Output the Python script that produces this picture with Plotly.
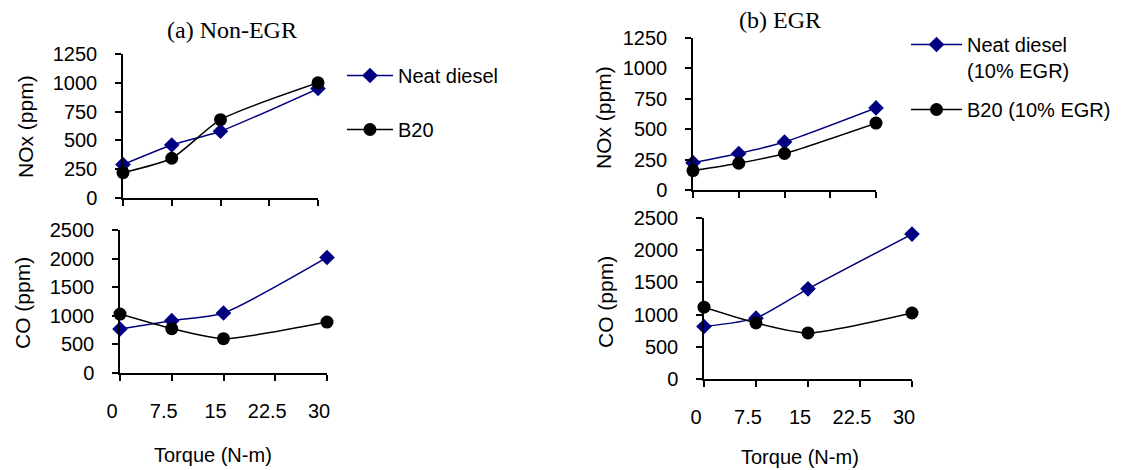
import plotly.graph_objects as go

W, H = 1123, 470

torque = [0, 7.5, 15, 30]
x_tickvals = [0, 7.5, 15, 22.5, 30]
x_ticktext = ["0", "7.5", "15", "22.5", "30"]

nox_neat_nonegr = [290, 460, 580, 950]
nox_b20_nonegr = [220, 345, 680, 1000]
co_neat_nonegr = [770, 915, 1050, 2020]
co_b20_nonegr = [1030, 775, 600, 890]

nox_neat_egr = [225, 300, 395, 675]
nox_b20_egr = [160, 220, 300, 550]
co_neat_egr = [815, 945, 1400, 2250]
co_b20_egr = [1115, 870, 715, 1025]

NAVY = "#000080"
BLACK = "#000000"
SANS = "Liberation Sans, Arial, sans-serif"
SERIF = "Liberation Serif, Times New Roman, serif"


def px_x(a, b):
    return [a / W, b / W]


def px_y(top, bottom):
    return [1 - bottom / H, 1 - top / H]


fig = go.Figure()


def add(xa, ya, y, color, symbol, name, legend=None, show=False, group=None):
    fig.add_trace(go.Scatter(
        x=torque, y=y, xaxis=xa, yaxis=ya, mode="lines+markers",
        line=dict(color=color, width=1.5, shape="spline", smoothing=0.6),
        marker=dict(symbol=symbol, size=12 if symbol == "diamond" else 13, color=color),
        name=name, showlegend=show, legend=legend, legendgroup=group,
        cliponaxis=False,
    ))


add("x", "y", nox_neat_nonegr, NAVY, "diamond", "Neat diesel", "legend", True, "a1")
add("x", "y", nox_b20_nonegr, BLACK, "circle", "B20", "legend", True, "a2")
add("x2", "y2", co_neat_nonegr, NAVY, "diamond", "Neat diesel")
add("x2", "y2", co_b20_nonegr, BLACK, "circle", "B20")
add("x3", "y3", nox_neat_egr, NAVY, "diamond", "Neat diesel<br>(10% EGR)", "legend2", True, "b1")
add("x3", "y3", nox_b20_egr, BLACK, "circle", "B20 (10% EGR)", "legend2", True, "b2")
add("x4", "y4", co_neat_egr, NAVY, "diamond", "Neat diesel")
add("x4", "y4", co_b20_egr, BLACK, "circle", "B20")

tickfont = dict(family=SANS, size=20, color="black")


def xaxis(domain, anchor, labels):
    return dict(
        domain=domain, anchor=anchor, range=[0, 30], automargin=False,
        tickvals=x_tickvals, ticktext=x_ticktext, showticklabels=labels,
        ticks="outside", ticklen=6, tickcolor="black", tickwidth=1.5,
        showline=True, linecolor="black", linewidth=1.5,
        showgrid=False, zeroline=False, tickfont=tickfont,
        ticklabelstandoff=13, ticklabelshift=-8,
    )


def yaxis(domain, anchor, top, step):
    return dict(
        domain=domain, anchor=anchor, range=[0, top], dtick=step, tick0=0,
        automargin=False,
        ticks="outside", ticklen=6, tickcolor="black", tickwidth=1.5,
        showline=True, linecolor="black", linewidth=1.5,
        showgrid=False, zeroline=False, tickfont=tickfont,
        ticklabelstandoff=14,
    )


annotations = [
    dict(text="(a) Non-EGR", x=232 / W, y=1 - 30 / H, font=dict(family=SERIF, size=24)),
    dict(text="(b) EGR", x=780 / W, y=1 - 20 / H, font=dict(family=SERIF, size=24)),
    dict(text="Torque (N-m)", x=213 / W, y=1 - 455 / H, font=dict(family=SANS, size=20)),
    dict(text="Torque (N-m)", x=800 / W, y=1 - 457 / H, font=dict(family=SANS, size=20)),
    dict(text="NOx (ppm)", x=25 / W, y=1 - 127 / H, textangle=-90, font=dict(family=SANS, size=21)),
    dict(text="CO (ppm)", x=22 / W, y=1 - 303 / H, textangle=-90, font=dict(family=SANS, size=21)),
    dict(text="NOx (ppm)", x=603 / W, y=1 - 118 / H, textangle=-90, font=dict(family=SANS, size=21)),
    dict(text="CO (ppm)", x=605 / W, y=1 - 302 / H, textangle=-90, font=dict(family=SANS, size=21)),
]
for a in annotations:
    a.update(xref="paper", yref="paper", showarrow=False, xanchor="center", yanchor="middle")
    a["font"]["color"] = "black"

fig.update_layout(
    width=W, height=H, margin=dict(l=0, r=0, t=0, b=0),
    paper_bgcolor="white", plot_bgcolor="white",
    font=dict(family=SANS, size=20, color="black"),
    xaxis=xaxis(px_x(123, 318), "y", False),
    yaxis=yaxis(px_y(54, 198), "x", 1250, 250),
    xaxis2=xaxis(px_x(120, 327), "y2", True),
    yaxis2=yaxis(px_y(230, 373), "x2", 2500, 500),
    xaxis3=xaxis(px_x(693, 876), "y3", False),
    yaxis3=yaxis(px_y(38, 190), "x3", 1250, 250),
    xaxis4=xaxis(px_x(704, 912), "y4", True),
    yaxis4=yaxis(px_y(218, 379), "x4", 2500, 500),
    legend=dict(x=342 / W, y=1 - 56 / H, xanchor="left", yanchor="top",
                font=dict(family=SANS, size=20), bgcolor="rgba(0,0,0,0)",
                tracegroupgap=25, itemwidth=46, traceorder="grouped"),
    legend2=dict(x=906 / W, y=1 - 25 / H, xanchor="left", yanchor="top",
                 font=dict(family=SANS, size=20), bgcolor="rgba(0,0,0,0)",
                 tracegroupgap=10, itemwidth=51, traceorder="grouped", valign="top"),
    annotations=annotations,
)

fig.write_html("out.html")
